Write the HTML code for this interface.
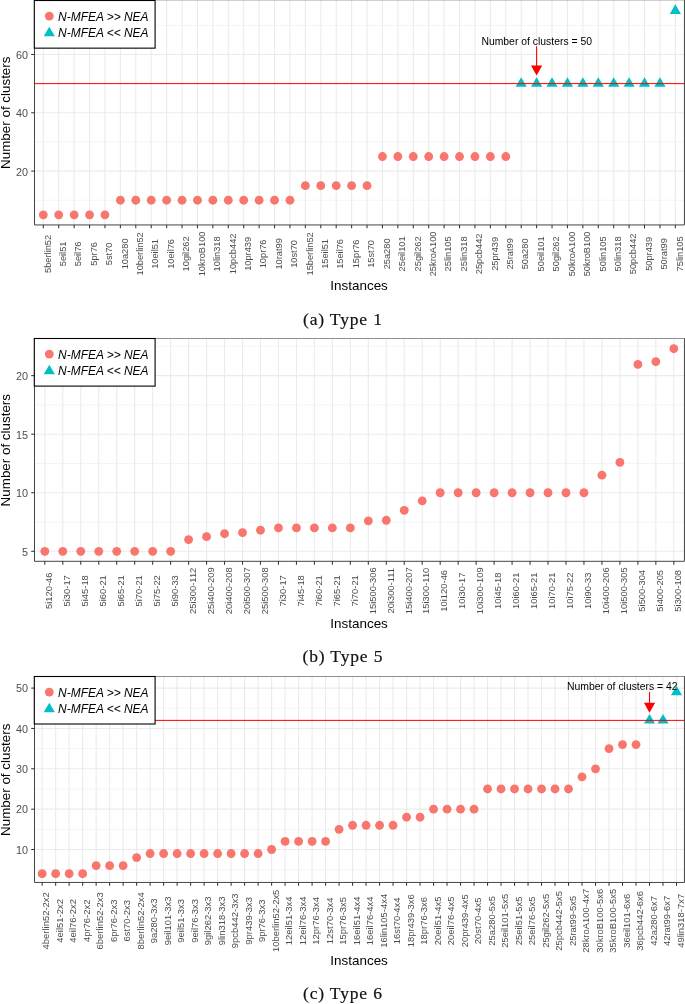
<!DOCTYPE html>
<html><head><meta charset="utf-8"><title>Figure</title>
<style>
html,body{margin:0;padding:0;background:#fff;}
body{width:685px;height:1004px;overflow:hidden;font-family:"Liberation Sans",sans-serif;}
svg{display:block;position:absolute;left:0;top:0;will-change:transform;}
.s{font-family:"Liberation Sans",sans-serif;}
.r{font-family:"Liberation Serif",serif;}
</style></head><body>
<svg width="685" height="1004" viewBox="0 0 685 1004">
<rect x="0" y="0" width="685" height="1004" fill="#fff"/>
<rect x="34.5" y="-0.1" width="649.95" height="225.04999999999998" fill="#fff"/>
<line x1="34.5" x2="684.45" y1="200.22" y2="200.22" stroke="#ebebeb" stroke-width="0.55"/>
<line x1="34.5" x2="684.45" y1="141.94" y2="141.94" stroke="#ebebeb" stroke-width="0.55"/>
<line x1="34.5" x2="684.45" y1="83.64" y2="83.64" stroke="#ebebeb" stroke-width="0.55"/>
<line x1="34.5" x2="684.45" y1="25.36" y2="25.36" stroke="#ebebeb" stroke-width="0.55"/>
<line x1="34.5" x2="684.45" y1="171.08" y2="171.08" stroke="#ebebeb" stroke-width="1.1"/>
<line x1="34.5" x2="684.45" y1="112.79" y2="112.79" stroke="#ebebeb" stroke-width="1.1"/>
<line x1="34.5" x2="684.45" y1="54.50" y2="54.50" stroke="#ebebeb" stroke-width="1.1"/>
<line x1="43.30" x2="43.30" y1="-0.1" y2="224.95" stroke="#ebebeb" stroke-width="1.1"/>
<line x1="58.72" x2="58.72" y1="-0.1" y2="224.95" stroke="#ebebeb" stroke-width="1.1"/>
<line x1="74.13" x2="74.13" y1="-0.1" y2="224.95" stroke="#ebebeb" stroke-width="1.1"/>
<line x1="89.55" x2="89.55" y1="-0.1" y2="224.95" stroke="#ebebeb" stroke-width="1.1"/>
<line x1="104.96" x2="104.96" y1="-0.1" y2="224.95" stroke="#ebebeb" stroke-width="1.1"/>
<line x1="120.38" x2="120.38" y1="-0.1" y2="224.95" stroke="#ebebeb" stroke-width="1.1"/>
<line x1="135.79" x2="135.79" y1="-0.1" y2="224.95" stroke="#ebebeb" stroke-width="1.1"/>
<line x1="151.21" x2="151.21" y1="-0.1" y2="224.95" stroke="#ebebeb" stroke-width="1.1"/>
<line x1="166.63" x2="166.63" y1="-0.1" y2="224.95" stroke="#ebebeb" stroke-width="1.1"/>
<line x1="182.04" x2="182.04" y1="-0.1" y2="224.95" stroke="#ebebeb" stroke-width="1.1"/>
<line x1="197.46" x2="197.46" y1="-0.1" y2="224.95" stroke="#ebebeb" stroke-width="1.1"/>
<line x1="212.87" x2="212.87" y1="-0.1" y2="224.95" stroke="#ebebeb" stroke-width="1.1"/>
<line x1="228.29" x2="228.29" y1="-0.1" y2="224.95" stroke="#ebebeb" stroke-width="1.1"/>
<line x1="243.71" x2="243.71" y1="-0.1" y2="224.95" stroke="#ebebeb" stroke-width="1.1"/>
<line x1="259.12" x2="259.12" y1="-0.1" y2="224.95" stroke="#ebebeb" stroke-width="1.1"/>
<line x1="274.54" x2="274.54" y1="-0.1" y2="224.95" stroke="#ebebeb" stroke-width="1.1"/>
<line x1="289.95" x2="289.95" y1="-0.1" y2="224.95" stroke="#ebebeb" stroke-width="1.1"/>
<line x1="305.37" x2="305.37" y1="-0.1" y2="224.95" stroke="#ebebeb" stroke-width="1.1"/>
<line x1="320.79" x2="320.79" y1="-0.1" y2="224.95" stroke="#ebebeb" stroke-width="1.1"/>
<line x1="336.20" x2="336.20" y1="-0.1" y2="224.95" stroke="#ebebeb" stroke-width="1.1"/>
<line x1="351.62" x2="351.62" y1="-0.1" y2="224.95" stroke="#ebebeb" stroke-width="1.1"/>
<line x1="367.03" x2="367.03" y1="-0.1" y2="224.95" stroke="#ebebeb" stroke-width="1.1"/>
<line x1="382.45" x2="382.45" y1="-0.1" y2="224.95" stroke="#ebebeb" stroke-width="1.1"/>
<line x1="397.86" x2="397.86" y1="-0.1" y2="224.95" stroke="#ebebeb" stroke-width="1.1"/>
<line x1="413.28" x2="413.28" y1="-0.1" y2="224.95" stroke="#ebebeb" stroke-width="1.1"/>
<line x1="428.70" x2="428.70" y1="-0.1" y2="224.95" stroke="#ebebeb" stroke-width="1.1"/>
<line x1="444.11" x2="444.11" y1="-0.1" y2="224.95" stroke="#ebebeb" stroke-width="1.1"/>
<line x1="459.53" x2="459.53" y1="-0.1" y2="224.95" stroke="#ebebeb" stroke-width="1.1"/>
<line x1="474.94" x2="474.94" y1="-0.1" y2="224.95" stroke="#ebebeb" stroke-width="1.1"/>
<line x1="490.36" x2="490.36" y1="-0.1" y2="224.95" stroke="#ebebeb" stroke-width="1.1"/>
<line x1="505.78" x2="505.78" y1="-0.1" y2="224.95" stroke="#ebebeb" stroke-width="1.1"/>
<line x1="521.19" x2="521.19" y1="-0.1" y2="224.95" stroke="#ebebeb" stroke-width="1.1"/>
<line x1="536.61" x2="536.61" y1="-0.1" y2="224.95" stroke="#ebebeb" stroke-width="1.1"/>
<line x1="552.02" x2="552.02" y1="-0.1" y2="224.95" stroke="#ebebeb" stroke-width="1.1"/>
<line x1="567.44" x2="567.44" y1="-0.1" y2="224.95" stroke="#ebebeb" stroke-width="1.1"/>
<line x1="582.86" x2="582.86" y1="-0.1" y2="224.95" stroke="#ebebeb" stroke-width="1.1"/>
<line x1="598.27" x2="598.27" y1="-0.1" y2="224.95" stroke="#ebebeb" stroke-width="1.1"/>
<line x1="613.69" x2="613.69" y1="-0.1" y2="224.95" stroke="#ebebeb" stroke-width="1.1"/>
<line x1="629.10" x2="629.10" y1="-0.1" y2="224.95" stroke="#ebebeb" stroke-width="1.1"/>
<line x1="644.52" x2="644.52" y1="-0.1" y2="224.95" stroke="#ebebeb" stroke-width="1.1"/>
<line x1="659.93" x2="659.93" y1="-0.1" y2="224.95" stroke="#ebebeb" stroke-width="1.1"/>
<line x1="675.35" x2="675.35" y1="-0.1" y2="224.95" stroke="#ebebeb" stroke-width="1.1"/>
<circle cx="43.30" cy="214.80" r="4.42" fill="#F8766D"/>
<circle cx="58.72" cy="214.80" r="4.42" fill="#F8766D"/>
<circle cx="74.13" cy="214.80" r="4.42" fill="#F8766D"/>
<circle cx="89.55" cy="214.80" r="4.42" fill="#F8766D"/>
<circle cx="104.96" cy="214.80" r="4.42" fill="#F8766D"/>
<circle cx="120.38" cy="200.22" r="4.42" fill="#F8766D"/>
<circle cx="135.79" cy="200.22" r="4.42" fill="#F8766D"/>
<circle cx="151.21" cy="200.22" r="4.42" fill="#F8766D"/>
<circle cx="166.63" cy="200.22" r="4.42" fill="#F8766D"/>
<circle cx="182.04" cy="200.22" r="4.42" fill="#F8766D"/>
<circle cx="197.46" cy="200.22" r="4.42" fill="#F8766D"/>
<circle cx="212.87" cy="200.22" r="4.42" fill="#F8766D"/>
<circle cx="228.29" cy="200.22" r="4.42" fill="#F8766D"/>
<circle cx="243.71" cy="200.22" r="4.42" fill="#F8766D"/>
<circle cx="259.12" cy="200.22" r="4.42" fill="#F8766D"/>
<circle cx="274.54" cy="200.22" r="4.42" fill="#F8766D"/>
<circle cx="289.95" cy="200.22" r="4.42" fill="#F8766D"/>
<circle cx="305.37" cy="185.65" r="4.42" fill="#F8766D"/>
<circle cx="320.79" cy="185.65" r="4.42" fill="#F8766D"/>
<circle cx="336.20" cy="185.65" r="4.42" fill="#F8766D"/>
<circle cx="351.62" cy="185.65" r="4.42" fill="#F8766D"/>
<circle cx="367.03" cy="185.65" r="4.42" fill="#F8766D"/>
<circle cx="382.45" cy="156.51" r="4.42" fill="#F8766D"/>
<circle cx="397.86" cy="156.51" r="4.42" fill="#F8766D"/>
<circle cx="413.28" cy="156.51" r="4.42" fill="#F8766D"/>
<circle cx="428.70" cy="156.51" r="4.42" fill="#F8766D"/>
<circle cx="444.11" cy="156.51" r="4.42" fill="#F8766D"/>
<circle cx="459.53" cy="156.51" r="4.42" fill="#F8766D"/>
<circle cx="474.94" cy="156.51" r="4.42" fill="#F8766D"/>
<circle cx="490.36" cy="156.51" r="4.42" fill="#F8766D"/>
<circle cx="505.78" cy="156.51" r="4.42" fill="#F8766D"/>
<polygon points="521.19,77.19 526.78,86.87 515.61,86.87" fill="#00BFC4"/>
<polygon points="536.61,77.19 542.19,86.87 531.02,86.87" fill="#00BFC4"/>
<polygon points="552.02,77.19 557.61,86.87 546.44,86.87" fill="#00BFC4"/>
<polygon points="567.44,77.19 573.03,86.87 561.85,86.87" fill="#00BFC4"/>
<polygon points="582.86,77.19 588.44,86.87 577.27,86.87" fill="#00BFC4"/>
<polygon points="598.27,77.19 603.86,86.87 592.69,86.87" fill="#00BFC4"/>
<polygon points="613.69,77.19 619.27,86.87 608.10,86.87" fill="#00BFC4"/>
<polygon points="629.10,77.19 634.69,86.87 623.52,86.87" fill="#00BFC4"/>
<polygon points="644.52,77.19 650.10,86.87 638.93,86.87" fill="#00BFC4"/>
<polygon points="659.93,77.19 665.52,86.87 654.35,86.87" fill="#00BFC4"/>
<polygon points="675.35,4.33 680.94,14.01 669.76,14.01" fill="#00BFC4"/>
<line x1="34.5" x2="684.45" y1="83.64" y2="83.64" stroke="#ff0000" stroke-width="1"/>
<text x="536.7" y="44.5" class="s" font-size="10.4" fill="#000" text-anchor="middle">Number of clusters = 50</text>
<line x1="536.61" x2="536.61" y1="46.2" y2="70.6" stroke="#ff0000" stroke-width="1.1"/>
<polygon points="531.01,65.60 542.21,65.60 536.61,75.60" fill="#ff0000"/>
<path d="M34.5,-0.1 V224.95 H684.45 V-0.1" fill="none" stroke="#3a3a3a" stroke-width="0.95" stroke-linejoin="miter" stroke-linecap="square"/>
<line x1="34.5" x2="684.45" y1="-0.1" y2="-0.1" stroke="#8a8a8a" stroke-width="0.95"/>
<line x1="43.30" x2="43.30" y1="224.95" y2="228.35" stroke="#333" stroke-width="1.05"/>
<line x1="58.72" x2="58.72" y1="224.95" y2="228.35" stroke="#333" stroke-width="1.05"/>
<line x1="74.13" x2="74.13" y1="224.95" y2="228.35" stroke="#333" stroke-width="1.05"/>
<line x1="89.55" x2="89.55" y1="224.95" y2="228.35" stroke="#333" stroke-width="1.05"/>
<line x1="104.96" x2="104.96" y1="224.95" y2="228.35" stroke="#333" stroke-width="1.05"/>
<line x1="120.38" x2="120.38" y1="224.95" y2="228.35" stroke="#333" stroke-width="1.05"/>
<line x1="135.79" x2="135.79" y1="224.95" y2="228.35" stroke="#333" stroke-width="1.05"/>
<line x1="151.21" x2="151.21" y1="224.95" y2="228.35" stroke="#333" stroke-width="1.05"/>
<line x1="166.63" x2="166.63" y1="224.95" y2="228.35" stroke="#333" stroke-width="1.05"/>
<line x1="182.04" x2="182.04" y1="224.95" y2="228.35" stroke="#333" stroke-width="1.05"/>
<line x1="197.46" x2="197.46" y1="224.95" y2="228.35" stroke="#333" stroke-width="1.05"/>
<line x1="212.87" x2="212.87" y1="224.95" y2="228.35" stroke="#333" stroke-width="1.05"/>
<line x1="228.29" x2="228.29" y1="224.95" y2="228.35" stroke="#333" stroke-width="1.05"/>
<line x1="243.71" x2="243.71" y1="224.95" y2="228.35" stroke="#333" stroke-width="1.05"/>
<line x1="259.12" x2="259.12" y1="224.95" y2="228.35" stroke="#333" stroke-width="1.05"/>
<line x1="274.54" x2="274.54" y1="224.95" y2="228.35" stroke="#333" stroke-width="1.05"/>
<line x1="289.95" x2="289.95" y1="224.95" y2="228.35" stroke="#333" stroke-width="1.05"/>
<line x1="305.37" x2="305.37" y1="224.95" y2="228.35" stroke="#333" stroke-width="1.05"/>
<line x1="320.79" x2="320.79" y1="224.95" y2="228.35" stroke="#333" stroke-width="1.05"/>
<line x1="336.20" x2="336.20" y1="224.95" y2="228.35" stroke="#333" stroke-width="1.05"/>
<line x1="351.62" x2="351.62" y1="224.95" y2="228.35" stroke="#333" stroke-width="1.05"/>
<line x1="367.03" x2="367.03" y1="224.95" y2="228.35" stroke="#333" stroke-width="1.05"/>
<line x1="382.45" x2="382.45" y1="224.95" y2="228.35" stroke="#333" stroke-width="1.05"/>
<line x1="397.86" x2="397.86" y1="224.95" y2="228.35" stroke="#333" stroke-width="1.05"/>
<line x1="413.28" x2="413.28" y1="224.95" y2="228.35" stroke="#333" stroke-width="1.05"/>
<line x1="428.70" x2="428.70" y1="224.95" y2="228.35" stroke="#333" stroke-width="1.05"/>
<line x1="444.11" x2="444.11" y1="224.95" y2="228.35" stroke="#333" stroke-width="1.05"/>
<line x1="459.53" x2="459.53" y1="224.95" y2="228.35" stroke="#333" stroke-width="1.05"/>
<line x1="474.94" x2="474.94" y1="224.95" y2="228.35" stroke="#333" stroke-width="1.05"/>
<line x1="490.36" x2="490.36" y1="224.95" y2="228.35" stroke="#333" stroke-width="1.05"/>
<line x1="505.78" x2="505.78" y1="224.95" y2="228.35" stroke="#333" stroke-width="1.05"/>
<line x1="521.19" x2="521.19" y1="224.95" y2="228.35" stroke="#333" stroke-width="1.05"/>
<line x1="536.61" x2="536.61" y1="224.95" y2="228.35" stroke="#333" stroke-width="1.05"/>
<line x1="552.02" x2="552.02" y1="224.95" y2="228.35" stroke="#333" stroke-width="1.05"/>
<line x1="567.44" x2="567.44" y1="224.95" y2="228.35" stroke="#333" stroke-width="1.05"/>
<line x1="582.86" x2="582.86" y1="224.95" y2="228.35" stroke="#333" stroke-width="1.05"/>
<line x1="598.27" x2="598.27" y1="224.95" y2="228.35" stroke="#333" stroke-width="1.05"/>
<line x1="613.69" x2="613.69" y1="224.95" y2="228.35" stroke="#333" stroke-width="1.05"/>
<line x1="629.10" x2="629.10" y1="224.95" y2="228.35" stroke="#333" stroke-width="1.05"/>
<line x1="644.52" x2="644.52" y1="224.95" y2="228.35" stroke="#333" stroke-width="1.05"/>
<line x1="659.93" x2="659.93" y1="224.95" y2="228.35" stroke="#333" stroke-width="1.05"/>
<line x1="675.35" x2="675.35" y1="224.95" y2="228.35" stroke="#333" stroke-width="1.05"/>
<line x1="31.2" x2="34.5" y1="171.08" y2="171.08" stroke="#333" stroke-width="1.05"/>
<text x="27.95" y="175.78" class="s" font-size="10.8" fill="#4d4d4d" text-anchor="end">20</text>
<line x1="31.2" x2="34.5" y1="112.79" y2="112.79" stroke="#333" stroke-width="1.05"/>
<text x="27.95" y="117.49" class="s" font-size="10.8" fill="#4d4d4d" text-anchor="end">40</text>
<line x1="31.2" x2="34.5" y1="54.50" y2="54.50" stroke="#333" stroke-width="1.05"/>
<text x="27.95" y="59.20" class="s" font-size="10.8" fill="#4d4d4d" text-anchor="end">60</text>
<text transform="translate(50.55,253.90) rotate(-90)" class="s" font-size="9.25" fill="#4d4d4d" text-anchor="middle">5berlin52</text>
<text transform="translate(65.97,253.90) rotate(-90)" class="s" font-size="9.25" fill="#4d4d4d" text-anchor="middle">5eil51</text>
<text transform="translate(81.38,253.90) rotate(-90)" class="s" font-size="9.25" fill="#4d4d4d" text-anchor="middle">5eil76</text>
<text transform="translate(96.80,253.90) rotate(-90)" class="s" font-size="9.25" fill="#4d4d4d" text-anchor="middle">5pr76</text>
<text transform="translate(112.21,253.90) rotate(-90)" class="s" font-size="9.25" fill="#4d4d4d" text-anchor="middle">5st70</text>
<text transform="translate(127.63,253.90) rotate(-90)" class="s" font-size="9.25" fill="#4d4d4d" text-anchor="middle">10a280</text>
<text transform="translate(143.04,253.90) rotate(-90)" class="s" font-size="9.25" fill="#4d4d4d" text-anchor="middle">10berlin52</text>
<text transform="translate(158.46,253.90) rotate(-90)" class="s" font-size="9.25" fill="#4d4d4d" text-anchor="middle">10eil51</text>
<text transform="translate(173.88,253.90) rotate(-90)" class="s" font-size="9.25" fill="#4d4d4d" text-anchor="middle">10eil76</text>
<text transform="translate(189.29,253.90) rotate(-90)" class="s" font-size="9.25" fill="#4d4d4d" text-anchor="middle">10gil262</text>
<text transform="translate(204.71,253.90) rotate(-90)" class="s" font-size="9.25" fill="#4d4d4d" text-anchor="middle">10kroB100</text>
<text transform="translate(220.12,253.90) rotate(-90)" class="s" font-size="9.25" fill="#4d4d4d" text-anchor="middle">10lin318</text>
<text transform="translate(235.54,253.90) rotate(-90)" class="s" font-size="9.25" fill="#4d4d4d" text-anchor="middle">10pcb442</text>
<text transform="translate(250.96,253.90) rotate(-90)" class="s" font-size="9.25" fill="#4d4d4d" text-anchor="middle">10pr439</text>
<text transform="translate(266.37,253.90) rotate(-90)" class="s" font-size="9.25" fill="#4d4d4d" text-anchor="middle">10pr76</text>
<text transform="translate(281.79,253.90) rotate(-90)" class="s" font-size="9.25" fill="#4d4d4d" text-anchor="middle">10rat99</text>
<text transform="translate(297.20,253.90) rotate(-90)" class="s" font-size="9.25" fill="#4d4d4d" text-anchor="middle">10st70</text>
<text transform="translate(312.62,253.90) rotate(-90)" class="s" font-size="9.25" fill="#4d4d4d" text-anchor="middle">15berlin52</text>
<text transform="translate(328.04,253.90) rotate(-90)" class="s" font-size="9.25" fill="#4d4d4d" text-anchor="middle">15eil51</text>
<text transform="translate(343.45,253.90) rotate(-90)" class="s" font-size="9.25" fill="#4d4d4d" text-anchor="middle">15eil76</text>
<text transform="translate(358.87,253.90) rotate(-90)" class="s" font-size="9.25" fill="#4d4d4d" text-anchor="middle">15pr76</text>
<text transform="translate(374.28,253.90) rotate(-90)" class="s" font-size="9.25" fill="#4d4d4d" text-anchor="middle">15st70</text>
<text transform="translate(389.70,253.90) rotate(-90)" class="s" font-size="9.25" fill="#4d4d4d" text-anchor="middle">25a280</text>
<text transform="translate(405.11,253.90) rotate(-90)" class="s" font-size="9.25" fill="#4d4d4d" text-anchor="middle">25eil101</text>
<text transform="translate(420.53,253.90) rotate(-90)" class="s" font-size="9.25" fill="#4d4d4d" text-anchor="middle">25gil262</text>
<text transform="translate(435.95,253.90) rotate(-90)" class="s" font-size="9.25" fill="#4d4d4d" text-anchor="middle">25kroA100</text>
<text transform="translate(451.36,253.90) rotate(-90)" class="s" font-size="9.25" fill="#4d4d4d" text-anchor="middle">25lin105</text>
<text transform="translate(466.78,253.90) rotate(-90)" class="s" font-size="9.25" fill="#4d4d4d" text-anchor="middle">25lin318</text>
<text transform="translate(482.19,253.90) rotate(-90)" class="s" font-size="9.25" fill="#4d4d4d" text-anchor="middle">25pcb442</text>
<text transform="translate(497.61,253.90) rotate(-90)" class="s" font-size="9.25" fill="#4d4d4d" text-anchor="middle">25pr439</text>
<text transform="translate(513.03,253.90) rotate(-90)" class="s" font-size="9.25" fill="#4d4d4d" text-anchor="middle">25rat99</text>
<text transform="translate(528.44,253.90) rotate(-90)" class="s" font-size="9.25" fill="#4d4d4d" text-anchor="middle">50a280</text>
<text transform="translate(543.86,253.90) rotate(-90)" class="s" font-size="9.25" fill="#4d4d4d" text-anchor="middle">50eil101</text>
<text transform="translate(559.27,253.90) rotate(-90)" class="s" font-size="9.25" fill="#4d4d4d" text-anchor="middle">50gil262</text>
<text transform="translate(574.69,253.90) rotate(-90)" class="s" font-size="9.25" fill="#4d4d4d" text-anchor="middle">50kroA100</text>
<text transform="translate(590.11,253.90) rotate(-90)" class="s" font-size="9.25" fill="#4d4d4d" text-anchor="middle">50kroB100</text>
<text transform="translate(605.52,253.90) rotate(-90)" class="s" font-size="9.25" fill="#4d4d4d" text-anchor="middle">50lin105</text>
<text transform="translate(620.94,253.90) rotate(-90)" class="s" font-size="9.25" fill="#4d4d4d" text-anchor="middle">50lin318</text>
<text transform="translate(636.35,253.90) rotate(-90)" class="s" font-size="9.25" fill="#4d4d4d" text-anchor="middle">50pcb442</text>
<text transform="translate(651.77,253.90) rotate(-90)" class="s" font-size="9.25" fill="#4d4d4d" text-anchor="middle">50pr439</text>
<text transform="translate(667.18,253.90) rotate(-90)" class="s" font-size="9.25" fill="#4d4d4d" text-anchor="middle">50rat99</text>
<text transform="translate(682.60,253.90) rotate(-90)" class="s" font-size="9.25" fill="#4d4d4d" text-anchor="middle">75lin105</text>
<text x="359.08" y="290" class="s" font-size="13.45" fill="#000" text-anchor="middle">Instances</text>
<text transform="translate(9.9,112.72) rotate(-90)" class="s" font-size="13.4" fill="#000" text-anchor="middle">Number of clusters</text>
<rect x="34.3" y="0.5" width="120.8" height="47.65" fill="#fff" stroke="#000" stroke-width="1.1"/>
<circle cx="49.30" cy="16.10" r="4.42" fill="#F8766D"/>
<polygon points="49.30,26.65 54.89,36.33 43.71,36.33" fill="#00BFC4"/>
<text x="58.099999999999994" y="20.6" class="s" font-size="11.95" font-style="italic" fill="#000">N-MFEA &gt;&gt; NEA</text>
<text x="58.099999999999994" y="37.0" class="s" font-size="11.95" font-style="italic" fill="#000">N-MFEA &lt;&lt; NEA</text>
<text x="342.9" y="324.8" class="r" font-size="17.5" letter-spacing="0.85" fill="#111" stroke="#111" stroke-width="0.2" text-anchor="middle">(a) Type 1</text>
<rect x="34.5" y="338.5" width="649.95" height="222.79999999999995" fill="#fff"/>
<line x1="34.5" x2="684.45" y1="522.02" y2="522.02" stroke="#ebebeb" stroke-width="0.55"/>
<line x1="34.5" x2="684.45" y1="463.47" y2="463.47" stroke="#ebebeb" stroke-width="0.55"/>
<line x1="34.5" x2="684.45" y1="404.92" y2="404.92" stroke="#ebebeb" stroke-width="0.55"/>
<line x1="34.5" x2="684.45" y1="346.37" y2="346.37" stroke="#ebebeb" stroke-width="0.55"/>
<line x1="34.5" x2="684.45" y1="551.30" y2="551.30" stroke="#ebebeb" stroke-width="1.1"/>
<line x1="34.5" x2="684.45" y1="492.75" y2="492.75" stroke="#ebebeb" stroke-width="1.1"/>
<line x1="34.5" x2="684.45" y1="434.20" y2="434.20" stroke="#ebebeb" stroke-width="1.1"/>
<line x1="34.5" x2="684.45" y1="375.65" y2="375.65" stroke="#ebebeb" stroke-width="1.1"/>
<line x1="44.83" x2="44.83" y1="338.5" y2="561.3" stroke="#ebebeb" stroke-width="1.1"/>
<line x1="62.80" x2="62.80" y1="338.5" y2="561.3" stroke="#ebebeb" stroke-width="1.1"/>
<line x1="80.77" x2="80.77" y1="338.5" y2="561.3" stroke="#ebebeb" stroke-width="1.1"/>
<line x1="98.75" x2="98.75" y1="338.5" y2="561.3" stroke="#ebebeb" stroke-width="1.1"/>
<line x1="116.72" x2="116.72" y1="338.5" y2="561.3" stroke="#ebebeb" stroke-width="1.1"/>
<line x1="134.69" x2="134.69" y1="338.5" y2="561.3" stroke="#ebebeb" stroke-width="1.1"/>
<line x1="152.66" x2="152.66" y1="338.5" y2="561.3" stroke="#ebebeb" stroke-width="1.1"/>
<line x1="170.63" x2="170.63" y1="338.5" y2="561.3" stroke="#ebebeb" stroke-width="1.1"/>
<line x1="188.60" x2="188.60" y1="338.5" y2="561.3" stroke="#ebebeb" stroke-width="1.1"/>
<line x1="206.57" x2="206.57" y1="338.5" y2="561.3" stroke="#ebebeb" stroke-width="1.1"/>
<line x1="224.54" x2="224.54" y1="338.5" y2="561.3" stroke="#ebebeb" stroke-width="1.1"/>
<line x1="242.51" x2="242.51" y1="338.5" y2="561.3" stroke="#ebebeb" stroke-width="1.1"/>
<line x1="260.48" x2="260.48" y1="338.5" y2="561.3" stroke="#ebebeb" stroke-width="1.1"/>
<line x1="278.46" x2="278.46" y1="338.5" y2="561.3" stroke="#ebebeb" stroke-width="1.1"/>
<line x1="296.43" x2="296.43" y1="338.5" y2="561.3" stroke="#ebebeb" stroke-width="1.1"/>
<line x1="314.40" x2="314.40" y1="338.5" y2="561.3" stroke="#ebebeb" stroke-width="1.1"/>
<line x1="332.37" x2="332.37" y1="338.5" y2="561.3" stroke="#ebebeb" stroke-width="1.1"/>
<line x1="350.34" x2="350.34" y1="338.5" y2="561.3" stroke="#ebebeb" stroke-width="1.1"/>
<line x1="368.31" x2="368.31" y1="338.5" y2="561.3" stroke="#ebebeb" stroke-width="1.1"/>
<line x1="386.28" x2="386.28" y1="338.5" y2="561.3" stroke="#ebebeb" stroke-width="1.1"/>
<line x1="404.25" x2="404.25" y1="338.5" y2="561.3" stroke="#ebebeb" stroke-width="1.1"/>
<line x1="422.22" x2="422.22" y1="338.5" y2="561.3" stroke="#ebebeb" stroke-width="1.1"/>
<line x1="440.19" x2="440.19" y1="338.5" y2="561.3" stroke="#ebebeb" stroke-width="1.1"/>
<line x1="458.17" x2="458.17" y1="338.5" y2="561.3" stroke="#ebebeb" stroke-width="1.1"/>
<line x1="476.14" x2="476.14" y1="338.5" y2="561.3" stroke="#ebebeb" stroke-width="1.1"/>
<line x1="494.11" x2="494.11" y1="338.5" y2="561.3" stroke="#ebebeb" stroke-width="1.1"/>
<line x1="512.08" x2="512.08" y1="338.5" y2="561.3" stroke="#ebebeb" stroke-width="1.1"/>
<line x1="530.05" x2="530.05" y1="338.5" y2="561.3" stroke="#ebebeb" stroke-width="1.1"/>
<line x1="548.02" x2="548.02" y1="338.5" y2="561.3" stroke="#ebebeb" stroke-width="1.1"/>
<line x1="565.99" x2="565.99" y1="338.5" y2="561.3" stroke="#ebebeb" stroke-width="1.1"/>
<line x1="583.96" x2="583.96" y1="338.5" y2="561.3" stroke="#ebebeb" stroke-width="1.1"/>
<line x1="601.93" x2="601.93" y1="338.5" y2="561.3" stroke="#ebebeb" stroke-width="1.1"/>
<line x1="619.90" x2="619.90" y1="338.5" y2="561.3" stroke="#ebebeb" stroke-width="1.1"/>
<line x1="637.88" x2="637.88" y1="338.5" y2="561.3" stroke="#ebebeb" stroke-width="1.1"/>
<line x1="655.85" x2="655.85" y1="338.5" y2="561.3" stroke="#ebebeb" stroke-width="1.1"/>
<line x1="673.82" x2="673.82" y1="338.5" y2="561.3" stroke="#ebebeb" stroke-width="1.1"/>
<circle cx="44.83" cy="551.30" r="4.42" fill="#F8766D"/>
<circle cx="62.80" cy="551.30" r="4.42" fill="#F8766D"/>
<circle cx="80.77" cy="551.30" r="4.42" fill="#F8766D"/>
<circle cx="98.75" cy="551.30" r="4.42" fill="#F8766D"/>
<circle cx="116.72" cy="551.30" r="4.42" fill="#F8766D"/>
<circle cx="134.69" cy="551.30" r="4.42" fill="#F8766D"/>
<circle cx="152.66" cy="551.30" r="4.42" fill="#F8766D"/>
<circle cx="170.63" cy="551.30" r="4.42" fill="#F8766D"/>
<circle cx="188.60" cy="539.59" r="4.42" fill="#F8766D"/>
<circle cx="206.57" cy="536.66" r="4.42" fill="#F8766D"/>
<circle cx="224.54" cy="533.73" r="4.42" fill="#F8766D"/>
<circle cx="242.51" cy="532.56" r="4.42" fill="#F8766D"/>
<circle cx="260.48" cy="530.22" r="4.42" fill="#F8766D"/>
<circle cx="278.46" cy="527.88" r="4.42" fill="#F8766D"/>
<circle cx="296.43" cy="527.88" r="4.42" fill="#F8766D"/>
<circle cx="314.40" cy="527.88" r="4.42" fill="#F8766D"/>
<circle cx="332.37" cy="527.88" r="4.42" fill="#F8766D"/>
<circle cx="350.34" cy="527.88" r="4.42" fill="#F8766D"/>
<circle cx="368.31" cy="520.85" r="4.42" fill="#F8766D"/>
<circle cx="386.28" cy="520.27" r="4.42" fill="#F8766D"/>
<circle cx="404.25" cy="510.31" r="4.42" fill="#F8766D"/>
<circle cx="422.22" cy="500.95" r="4.42" fill="#F8766D"/>
<circle cx="440.19" cy="492.75" r="4.42" fill="#F8766D"/>
<circle cx="458.17" cy="492.75" r="4.42" fill="#F8766D"/>
<circle cx="476.14" cy="492.75" r="4.42" fill="#F8766D"/>
<circle cx="494.11" cy="492.75" r="4.42" fill="#F8766D"/>
<circle cx="512.08" cy="492.75" r="4.42" fill="#F8766D"/>
<circle cx="530.05" cy="492.75" r="4.42" fill="#F8766D"/>
<circle cx="548.02" cy="492.75" r="4.42" fill="#F8766D"/>
<circle cx="565.99" cy="492.75" r="4.42" fill="#F8766D"/>
<circle cx="583.96" cy="492.75" r="4.42" fill="#F8766D"/>
<circle cx="601.93" cy="475.18" r="4.42" fill="#F8766D"/>
<circle cx="619.90" cy="462.30" r="4.42" fill="#F8766D"/>
<circle cx="637.88" cy="364.41" r="4.42" fill="#F8766D"/>
<circle cx="655.85" cy="361.60" r="4.42" fill="#F8766D"/>
<circle cx="673.82" cy="348.72" r="4.42" fill="#F8766D"/>
<path d="M34.5,338.5 V561.3 H684.45 V338.5" fill="none" stroke="#3a3a3a" stroke-width="0.95" stroke-linejoin="miter" stroke-linecap="square"/>
<line x1="34.5" x2="684.45" y1="338.5" y2="338.5" stroke="#8a8a8a" stroke-width="0.95"/>
<line x1="44.83" x2="44.83" y1="561.3" y2="564.6999999999999" stroke="#333" stroke-width="1.05"/>
<line x1="62.80" x2="62.80" y1="561.3" y2="564.6999999999999" stroke="#333" stroke-width="1.05"/>
<line x1="80.77" x2="80.77" y1="561.3" y2="564.6999999999999" stroke="#333" stroke-width="1.05"/>
<line x1="98.75" x2="98.75" y1="561.3" y2="564.6999999999999" stroke="#333" stroke-width="1.05"/>
<line x1="116.72" x2="116.72" y1="561.3" y2="564.6999999999999" stroke="#333" stroke-width="1.05"/>
<line x1="134.69" x2="134.69" y1="561.3" y2="564.6999999999999" stroke="#333" stroke-width="1.05"/>
<line x1="152.66" x2="152.66" y1="561.3" y2="564.6999999999999" stroke="#333" stroke-width="1.05"/>
<line x1="170.63" x2="170.63" y1="561.3" y2="564.6999999999999" stroke="#333" stroke-width="1.05"/>
<line x1="188.60" x2="188.60" y1="561.3" y2="564.6999999999999" stroke="#333" stroke-width="1.05"/>
<line x1="206.57" x2="206.57" y1="561.3" y2="564.6999999999999" stroke="#333" stroke-width="1.05"/>
<line x1="224.54" x2="224.54" y1="561.3" y2="564.6999999999999" stroke="#333" stroke-width="1.05"/>
<line x1="242.51" x2="242.51" y1="561.3" y2="564.6999999999999" stroke="#333" stroke-width="1.05"/>
<line x1="260.48" x2="260.48" y1="561.3" y2="564.6999999999999" stroke="#333" stroke-width="1.05"/>
<line x1="278.46" x2="278.46" y1="561.3" y2="564.6999999999999" stroke="#333" stroke-width="1.05"/>
<line x1="296.43" x2="296.43" y1="561.3" y2="564.6999999999999" stroke="#333" stroke-width="1.05"/>
<line x1="314.40" x2="314.40" y1="561.3" y2="564.6999999999999" stroke="#333" stroke-width="1.05"/>
<line x1="332.37" x2="332.37" y1="561.3" y2="564.6999999999999" stroke="#333" stroke-width="1.05"/>
<line x1="350.34" x2="350.34" y1="561.3" y2="564.6999999999999" stroke="#333" stroke-width="1.05"/>
<line x1="368.31" x2="368.31" y1="561.3" y2="564.6999999999999" stroke="#333" stroke-width="1.05"/>
<line x1="386.28" x2="386.28" y1="561.3" y2="564.6999999999999" stroke="#333" stroke-width="1.05"/>
<line x1="404.25" x2="404.25" y1="561.3" y2="564.6999999999999" stroke="#333" stroke-width="1.05"/>
<line x1="422.22" x2="422.22" y1="561.3" y2="564.6999999999999" stroke="#333" stroke-width="1.05"/>
<line x1="440.19" x2="440.19" y1="561.3" y2="564.6999999999999" stroke="#333" stroke-width="1.05"/>
<line x1="458.17" x2="458.17" y1="561.3" y2="564.6999999999999" stroke="#333" stroke-width="1.05"/>
<line x1="476.14" x2="476.14" y1="561.3" y2="564.6999999999999" stroke="#333" stroke-width="1.05"/>
<line x1="494.11" x2="494.11" y1="561.3" y2="564.6999999999999" stroke="#333" stroke-width="1.05"/>
<line x1="512.08" x2="512.08" y1="561.3" y2="564.6999999999999" stroke="#333" stroke-width="1.05"/>
<line x1="530.05" x2="530.05" y1="561.3" y2="564.6999999999999" stroke="#333" stroke-width="1.05"/>
<line x1="548.02" x2="548.02" y1="561.3" y2="564.6999999999999" stroke="#333" stroke-width="1.05"/>
<line x1="565.99" x2="565.99" y1="561.3" y2="564.6999999999999" stroke="#333" stroke-width="1.05"/>
<line x1="583.96" x2="583.96" y1="561.3" y2="564.6999999999999" stroke="#333" stroke-width="1.05"/>
<line x1="601.93" x2="601.93" y1="561.3" y2="564.6999999999999" stroke="#333" stroke-width="1.05"/>
<line x1="619.90" x2="619.90" y1="561.3" y2="564.6999999999999" stroke="#333" stroke-width="1.05"/>
<line x1="637.88" x2="637.88" y1="561.3" y2="564.6999999999999" stroke="#333" stroke-width="1.05"/>
<line x1="655.85" x2="655.85" y1="561.3" y2="564.6999999999999" stroke="#333" stroke-width="1.05"/>
<line x1="673.82" x2="673.82" y1="561.3" y2="564.6999999999999" stroke="#333" stroke-width="1.05"/>
<line x1="31.2" x2="34.5" y1="551.30" y2="551.30" stroke="#333" stroke-width="1.05"/>
<text x="27.95" y="555.75" class="s" font-size="10.8" fill="#4d4d4d" text-anchor="end">5</text>
<line x1="31.2" x2="34.5" y1="492.75" y2="492.75" stroke="#333" stroke-width="1.05"/>
<text x="27.95" y="497.20" class="s" font-size="10.8" fill="#4d4d4d" text-anchor="end">10</text>
<line x1="31.2" x2="34.5" y1="434.20" y2="434.20" stroke="#333" stroke-width="1.05"/>
<text x="27.95" y="438.65" class="s" font-size="10.8" fill="#4d4d4d" text-anchor="end">15</text>
<line x1="31.2" x2="34.5" y1="375.65" y2="375.65" stroke="#333" stroke-width="1.05"/>
<text x="27.95" y="380.10" class="s" font-size="10.8" fill="#4d4d4d" text-anchor="end">20</text>
<text transform="translate(52.08,590.80) rotate(-90)" class="s" font-size="9.4" fill="#4d4d4d" text-anchor="middle">5i120-46</text>
<text transform="translate(70.05,590.80) rotate(-90)" class="s" font-size="9.4" fill="#4d4d4d" text-anchor="middle">5i30-17</text>
<text transform="translate(88.02,590.80) rotate(-90)" class="s" font-size="9.4" fill="#4d4d4d" text-anchor="middle">5i45-18</text>
<text transform="translate(106.00,590.80) rotate(-90)" class="s" font-size="9.4" fill="#4d4d4d" text-anchor="middle">5i60-21</text>
<text transform="translate(123.97,590.80) rotate(-90)" class="s" font-size="9.4" fill="#4d4d4d" text-anchor="middle">5i65-21</text>
<text transform="translate(141.94,590.80) rotate(-90)" class="s" font-size="9.4" fill="#4d4d4d" text-anchor="middle">5i70-21</text>
<text transform="translate(159.91,590.80) rotate(-90)" class="s" font-size="9.4" fill="#4d4d4d" text-anchor="middle">5i75-22</text>
<text transform="translate(177.88,590.80) rotate(-90)" class="s" font-size="9.4" fill="#4d4d4d" text-anchor="middle">5i90-33</text>
<text transform="translate(195.85,590.80) rotate(-90)" class="s" font-size="9.4" fill="#4d4d4d" text-anchor="middle">25i300-112</text>
<text transform="translate(213.82,590.80) rotate(-90)" class="s" font-size="9.4" fill="#4d4d4d" text-anchor="middle">25i400-209</text>
<text transform="translate(231.79,590.80) rotate(-90)" class="s" font-size="9.4" fill="#4d4d4d" text-anchor="middle">20i400-208</text>
<text transform="translate(249.76,590.80) rotate(-90)" class="s" font-size="9.4" fill="#4d4d4d" text-anchor="middle">20i500-307</text>
<text transform="translate(267.73,590.80) rotate(-90)" class="s" font-size="9.4" fill="#4d4d4d" text-anchor="middle">25i500-308</text>
<text transform="translate(285.71,590.80) rotate(-90)" class="s" font-size="9.4" fill="#4d4d4d" text-anchor="middle">7i30-17</text>
<text transform="translate(303.68,590.80) rotate(-90)" class="s" font-size="9.4" fill="#4d4d4d" text-anchor="middle">7i45-18</text>
<text transform="translate(321.65,590.80) rotate(-90)" class="s" font-size="9.4" fill="#4d4d4d" text-anchor="middle">7i60-21</text>
<text transform="translate(339.62,590.80) rotate(-90)" class="s" font-size="9.4" fill="#4d4d4d" text-anchor="middle">7i65-21</text>
<text transform="translate(357.59,590.80) rotate(-90)" class="s" font-size="9.4" fill="#4d4d4d" text-anchor="middle">7i70-21</text>
<text transform="translate(375.56,590.80) rotate(-90)" class="s" font-size="9.4" fill="#4d4d4d" text-anchor="middle">15i500-306</text>
<text transform="translate(393.53,590.80) rotate(-90)" class="s" font-size="9.4" fill="#4d4d4d" text-anchor="middle">20i300-111</text>
<text transform="translate(411.50,590.80) rotate(-90)" class="s" font-size="9.4" fill="#4d4d4d" text-anchor="middle">15i400-207</text>
<text transform="translate(429.47,590.80) rotate(-90)" class="s" font-size="9.4" fill="#4d4d4d" text-anchor="middle">15i300-110</text>
<text transform="translate(447.44,590.80) rotate(-90)" class="s" font-size="9.4" fill="#4d4d4d" text-anchor="middle">10i120-46</text>
<text transform="translate(465.42,590.80) rotate(-90)" class="s" font-size="9.4" fill="#4d4d4d" text-anchor="middle">10i30-17</text>
<text transform="translate(483.39,590.80) rotate(-90)" class="s" font-size="9.4" fill="#4d4d4d" text-anchor="middle">10i300-109</text>
<text transform="translate(501.36,590.80) rotate(-90)" class="s" font-size="9.4" fill="#4d4d4d" text-anchor="middle">10i45-18</text>
<text transform="translate(519.33,590.80) rotate(-90)" class="s" font-size="9.4" fill="#4d4d4d" text-anchor="middle">10i60-21</text>
<text transform="translate(537.30,590.80) rotate(-90)" class="s" font-size="9.4" fill="#4d4d4d" text-anchor="middle">10i65-21</text>
<text transform="translate(555.27,590.80) rotate(-90)" class="s" font-size="9.4" fill="#4d4d4d" text-anchor="middle">10i70-21</text>
<text transform="translate(573.24,590.80) rotate(-90)" class="s" font-size="9.4" fill="#4d4d4d" text-anchor="middle">10i75-22</text>
<text transform="translate(591.21,590.80) rotate(-90)" class="s" font-size="9.4" fill="#4d4d4d" text-anchor="middle">10i90-33</text>
<text transform="translate(609.18,590.80) rotate(-90)" class="s" font-size="9.4" fill="#4d4d4d" text-anchor="middle">10i400-206</text>
<text transform="translate(627.15,590.80) rotate(-90)" class="s" font-size="9.4" fill="#4d4d4d" text-anchor="middle">10i500-305</text>
<text transform="translate(645.13,590.80) rotate(-90)" class="s" font-size="9.4" fill="#4d4d4d" text-anchor="middle">5i500-304</text>
<text transform="translate(663.10,590.80) rotate(-90)" class="s" font-size="9.4" fill="#4d4d4d" text-anchor="middle">5i400-205</text>
<text transform="translate(681.07,590.80) rotate(-90)" class="s" font-size="9.4" fill="#4d4d4d" text-anchor="middle">5i300-108</text>
<text x="359.08" y="627.9" class="s" font-size="13.45" fill="#000" text-anchor="middle">Instances</text>
<text transform="translate(9.9,450.20) rotate(-90)" class="s" font-size="13.4" fill="#000" text-anchor="middle">Number of clusters</text>
<rect x="34.3" y="338.5" width="120.8" height="47.60000000000002" fill="#fff" stroke="#000" stroke-width="1.1"/>
<circle cx="49.30" cy="354.10" r="4.42" fill="#F8766D"/>
<polygon points="49.30,364.65 54.89,374.33 43.71,374.33" fill="#00BFC4"/>
<text x="58.099999999999994" y="358.6" class="s" font-size="11.95" font-style="italic" fill="#000">N-MFEA &gt;&gt; NEA</text>
<text x="58.099999999999994" y="375.0" class="s" font-size="11.95" font-style="italic" fill="#000">N-MFEA &lt;&lt; NEA</text>
<text x="342.9" y="661.8" class="r" font-size="17.5" letter-spacing="0.85" fill="#111" stroke="#111" stroke-width="0.2" text-anchor="middle">(b) Type 5</text>
<rect x="34.5" y="676.5" width="649.95" height="205.95000000000005" fill="#fff"/>
<line x1="34.5" x2="684.45" y1="869.67" y2="869.67" stroke="#ebebeb" stroke-width="0.55"/>
<line x1="34.5" x2="684.45" y1="829.33" y2="829.33" stroke="#ebebeb" stroke-width="0.55"/>
<line x1="34.5" x2="684.45" y1="788.98" y2="788.98" stroke="#ebebeb" stroke-width="0.55"/>
<line x1="34.5" x2="684.45" y1="748.62" y2="748.62" stroke="#ebebeb" stroke-width="0.55"/>
<line x1="34.5" x2="684.45" y1="708.27" y2="708.27" stroke="#ebebeb" stroke-width="0.55"/>
<line x1="34.5" x2="684.45" y1="849.50" y2="849.50" stroke="#ebebeb" stroke-width="1.1"/>
<line x1="34.5" x2="684.45" y1="809.15" y2="809.15" stroke="#ebebeb" stroke-width="1.1"/>
<line x1="34.5" x2="684.45" y1="768.80" y2="768.80" stroke="#ebebeb" stroke-width="1.1"/>
<line x1="34.5" x2="684.45" y1="728.45" y2="728.45" stroke="#ebebeb" stroke-width="1.1"/>
<line x1="34.5" x2="684.45" y1="688.10" y2="688.10" stroke="#ebebeb" stroke-width="1.1"/>
<line x1="42.15" x2="42.15" y1="676.5" y2="882.45" stroke="#ebebeb" stroke-width="1.1"/>
<line x1="55.65" x2="55.65" y1="676.5" y2="882.45" stroke="#ebebeb" stroke-width="1.1"/>
<line x1="69.14" x2="69.14" y1="676.5" y2="882.45" stroke="#ebebeb" stroke-width="1.1"/>
<line x1="82.64" x2="82.64" y1="676.5" y2="882.45" stroke="#ebebeb" stroke-width="1.1"/>
<line x1="96.14" x2="96.14" y1="676.5" y2="882.45" stroke="#ebebeb" stroke-width="1.1"/>
<line x1="109.63" x2="109.63" y1="676.5" y2="882.45" stroke="#ebebeb" stroke-width="1.1"/>
<line x1="123.13" x2="123.13" y1="676.5" y2="882.45" stroke="#ebebeb" stroke-width="1.1"/>
<line x1="136.63" x2="136.63" y1="676.5" y2="882.45" stroke="#ebebeb" stroke-width="1.1"/>
<line x1="150.12" x2="150.12" y1="676.5" y2="882.45" stroke="#ebebeb" stroke-width="1.1"/>
<line x1="163.62" x2="163.62" y1="676.5" y2="882.45" stroke="#ebebeb" stroke-width="1.1"/>
<line x1="177.12" x2="177.12" y1="676.5" y2="882.45" stroke="#ebebeb" stroke-width="1.1"/>
<line x1="190.61" x2="190.61" y1="676.5" y2="882.45" stroke="#ebebeb" stroke-width="1.1"/>
<line x1="204.11" x2="204.11" y1="676.5" y2="882.45" stroke="#ebebeb" stroke-width="1.1"/>
<line x1="217.61" x2="217.61" y1="676.5" y2="882.45" stroke="#ebebeb" stroke-width="1.1"/>
<line x1="231.10" x2="231.10" y1="676.5" y2="882.45" stroke="#ebebeb" stroke-width="1.1"/>
<line x1="244.60" x2="244.60" y1="676.5" y2="882.45" stroke="#ebebeb" stroke-width="1.1"/>
<line x1="258.10" x2="258.10" y1="676.5" y2="882.45" stroke="#ebebeb" stroke-width="1.1"/>
<line x1="271.60" x2="271.60" y1="676.5" y2="882.45" stroke="#ebebeb" stroke-width="1.1"/>
<line x1="285.09" x2="285.09" y1="676.5" y2="882.45" stroke="#ebebeb" stroke-width="1.1"/>
<line x1="298.59" x2="298.59" y1="676.5" y2="882.45" stroke="#ebebeb" stroke-width="1.1"/>
<line x1="312.09" x2="312.09" y1="676.5" y2="882.45" stroke="#ebebeb" stroke-width="1.1"/>
<line x1="325.58" x2="325.58" y1="676.5" y2="882.45" stroke="#ebebeb" stroke-width="1.1"/>
<line x1="339.08" x2="339.08" y1="676.5" y2="882.45" stroke="#ebebeb" stroke-width="1.1"/>
<line x1="352.58" x2="352.58" y1="676.5" y2="882.45" stroke="#ebebeb" stroke-width="1.1"/>
<line x1="366.07" x2="366.07" y1="676.5" y2="882.45" stroke="#ebebeb" stroke-width="1.1"/>
<line x1="379.57" x2="379.57" y1="676.5" y2="882.45" stroke="#ebebeb" stroke-width="1.1"/>
<line x1="393.07" x2="393.07" y1="676.5" y2="882.45" stroke="#ebebeb" stroke-width="1.1"/>
<line x1="406.56" x2="406.56" y1="676.5" y2="882.45" stroke="#ebebeb" stroke-width="1.1"/>
<line x1="420.06" x2="420.06" y1="676.5" y2="882.45" stroke="#ebebeb" stroke-width="1.1"/>
<line x1="433.56" x2="433.56" y1="676.5" y2="882.45" stroke="#ebebeb" stroke-width="1.1"/>
<line x1="447.05" x2="447.05" y1="676.5" y2="882.45" stroke="#ebebeb" stroke-width="1.1"/>
<line x1="460.55" x2="460.55" y1="676.5" y2="882.45" stroke="#ebebeb" stroke-width="1.1"/>
<line x1="474.05" x2="474.05" y1="676.5" y2="882.45" stroke="#ebebeb" stroke-width="1.1"/>
<line x1="487.55" x2="487.55" y1="676.5" y2="882.45" stroke="#ebebeb" stroke-width="1.1"/>
<line x1="501.04" x2="501.04" y1="676.5" y2="882.45" stroke="#ebebeb" stroke-width="1.1"/>
<line x1="514.54" x2="514.54" y1="676.5" y2="882.45" stroke="#ebebeb" stroke-width="1.1"/>
<line x1="528.04" x2="528.04" y1="676.5" y2="882.45" stroke="#ebebeb" stroke-width="1.1"/>
<line x1="541.53" x2="541.53" y1="676.5" y2="882.45" stroke="#ebebeb" stroke-width="1.1"/>
<line x1="555.03" x2="555.03" y1="676.5" y2="882.45" stroke="#ebebeb" stroke-width="1.1"/>
<line x1="568.53" x2="568.53" y1="676.5" y2="882.45" stroke="#ebebeb" stroke-width="1.1"/>
<line x1="582.02" x2="582.02" y1="676.5" y2="882.45" stroke="#ebebeb" stroke-width="1.1"/>
<line x1="595.52" x2="595.52" y1="676.5" y2="882.45" stroke="#ebebeb" stroke-width="1.1"/>
<line x1="609.02" x2="609.02" y1="676.5" y2="882.45" stroke="#ebebeb" stroke-width="1.1"/>
<line x1="622.51" x2="622.51" y1="676.5" y2="882.45" stroke="#ebebeb" stroke-width="1.1"/>
<line x1="636.01" x2="636.01" y1="676.5" y2="882.45" stroke="#ebebeb" stroke-width="1.1"/>
<line x1="649.51" x2="649.51" y1="676.5" y2="882.45" stroke="#ebebeb" stroke-width="1.1"/>
<line x1="663.00" x2="663.00" y1="676.5" y2="882.45" stroke="#ebebeb" stroke-width="1.1"/>
<line x1="676.50" x2="676.50" y1="676.5" y2="882.45" stroke="#ebebeb" stroke-width="1.1"/>
<circle cx="42.15" cy="873.71" r="4.42" fill="#F8766D"/>
<circle cx="55.65" cy="873.71" r="4.42" fill="#F8766D"/>
<circle cx="69.14" cy="873.71" r="4.42" fill="#F8766D"/>
<circle cx="82.64" cy="873.71" r="4.42" fill="#F8766D"/>
<circle cx="96.14" cy="865.64" r="4.42" fill="#F8766D"/>
<circle cx="109.63" cy="865.64" r="4.42" fill="#F8766D"/>
<circle cx="123.13" cy="865.64" r="4.42" fill="#F8766D"/>
<circle cx="136.63" cy="857.57" r="4.42" fill="#F8766D"/>
<circle cx="150.12" cy="853.53" r="4.42" fill="#F8766D"/>
<circle cx="163.62" cy="853.53" r="4.42" fill="#F8766D"/>
<circle cx="177.12" cy="853.53" r="4.42" fill="#F8766D"/>
<circle cx="190.61" cy="853.53" r="4.42" fill="#F8766D"/>
<circle cx="204.11" cy="853.53" r="4.42" fill="#F8766D"/>
<circle cx="217.61" cy="853.53" r="4.42" fill="#F8766D"/>
<circle cx="231.10" cy="853.53" r="4.42" fill="#F8766D"/>
<circle cx="244.60" cy="853.53" r="4.42" fill="#F8766D"/>
<circle cx="258.10" cy="853.53" r="4.42" fill="#F8766D"/>
<circle cx="271.60" cy="849.50" r="4.42" fill="#F8766D"/>
<circle cx="285.09" cy="841.43" r="4.42" fill="#F8766D"/>
<circle cx="298.59" cy="841.43" r="4.42" fill="#F8766D"/>
<circle cx="312.09" cy="841.43" r="4.42" fill="#F8766D"/>
<circle cx="325.58" cy="841.43" r="4.42" fill="#F8766D"/>
<circle cx="339.08" cy="829.33" r="4.42" fill="#F8766D"/>
<circle cx="352.58" cy="825.29" r="4.42" fill="#F8766D"/>
<circle cx="366.07" cy="825.29" r="4.42" fill="#F8766D"/>
<circle cx="379.57" cy="825.29" r="4.42" fill="#F8766D"/>
<circle cx="393.07" cy="825.29" r="4.42" fill="#F8766D"/>
<circle cx="406.56" cy="817.22" r="4.42" fill="#F8766D"/>
<circle cx="420.06" cy="817.22" r="4.42" fill="#F8766D"/>
<circle cx="433.56" cy="809.15" r="4.42" fill="#F8766D"/>
<circle cx="447.05" cy="809.15" r="4.42" fill="#F8766D"/>
<circle cx="460.55" cy="809.15" r="4.42" fill="#F8766D"/>
<circle cx="474.05" cy="809.15" r="4.42" fill="#F8766D"/>
<circle cx="487.55" cy="788.98" r="4.42" fill="#F8766D"/>
<circle cx="501.04" cy="788.98" r="4.42" fill="#F8766D"/>
<circle cx="514.54" cy="788.98" r="4.42" fill="#F8766D"/>
<circle cx="528.04" cy="788.98" r="4.42" fill="#F8766D"/>
<circle cx="541.53" cy="788.98" r="4.42" fill="#F8766D"/>
<circle cx="555.03" cy="788.98" r="4.42" fill="#F8766D"/>
<circle cx="568.53" cy="788.98" r="4.42" fill="#F8766D"/>
<circle cx="582.02" cy="776.87" r="4.42" fill="#F8766D"/>
<circle cx="595.52" cy="768.80" r="4.42" fill="#F8766D"/>
<circle cx="609.02" cy="748.62" r="4.42" fill="#F8766D"/>
<circle cx="622.51" cy="744.59" r="4.42" fill="#F8766D"/>
<circle cx="636.01" cy="744.59" r="4.42" fill="#F8766D"/>
<polygon points="649.51,713.93 655.09,723.61 643.92,723.61" fill="#00BFC4"/>
<polygon points="663.00,713.93 668.59,723.61 657.42,723.61" fill="#00BFC4"/>
<polygon points="676.50,685.68 682.09,695.36 670.92,695.36" fill="#00BFC4"/>
<line x1="34.5" x2="684.45" y1="720.38" y2="720.38" stroke="#ff0000" stroke-width="1"/>
<text x="622.3" y="689.6" class="s" font-size="10.4" fill="#000" text-anchor="middle">Number of clusters = 42</text>
<line x1="649.51" x2="649.51" y1="692.1" y2="707.65" stroke="#ff0000" stroke-width="1.1"/>
<polygon points="643.91,702.65 655.11,702.65 649.51,712.65" fill="#ff0000"/>
<path d="M34.5,676.5 V882.45 H684.45 V676.5" fill="none" stroke="#3a3a3a" stroke-width="0.95" stroke-linejoin="miter" stroke-linecap="square"/>
<line x1="34.5" x2="684.45" y1="676.5" y2="676.5" stroke="#8a8a8a" stroke-width="0.95"/>
<line x1="42.15" x2="42.15" y1="882.45" y2="885.85" stroke="#333" stroke-width="1.05"/>
<line x1="55.65" x2="55.65" y1="882.45" y2="885.85" stroke="#333" stroke-width="1.05"/>
<line x1="69.14" x2="69.14" y1="882.45" y2="885.85" stroke="#333" stroke-width="1.05"/>
<line x1="82.64" x2="82.64" y1="882.45" y2="885.85" stroke="#333" stroke-width="1.05"/>
<line x1="96.14" x2="96.14" y1="882.45" y2="885.85" stroke="#333" stroke-width="1.05"/>
<line x1="109.63" x2="109.63" y1="882.45" y2="885.85" stroke="#333" stroke-width="1.05"/>
<line x1="123.13" x2="123.13" y1="882.45" y2="885.85" stroke="#333" stroke-width="1.05"/>
<line x1="136.63" x2="136.63" y1="882.45" y2="885.85" stroke="#333" stroke-width="1.05"/>
<line x1="150.12" x2="150.12" y1="882.45" y2="885.85" stroke="#333" stroke-width="1.05"/>
<line x1="163.62" x2="163.62" y1="882.45" y2="885.85" stroke="#333" stroke-width="1.05"/>
<line x1="177.12" x2="177.12" y1="882.45" y2="885.85" stroke="#333" stroke-width="1.05"/>
<line x1="190.61" x2="190.61" y1="882.45" y2="885.85" stroke="#333" stroke-width="1.05"/>
<line x1="204.11" x2="204.11" y1="882.45" y2="885.85" stroke="#333" stroke-width="1.05"/>
<line x1="217.61" x2="217.61" y1="882.45" y2="885.85" stroke="#333" stroke-width="1.05"/>
<line x1="231.10" x2="231.10" y1="882.45" y2="885.85" stroke="#333" stroke-width="1.05"/>
<line x1="244.60" x2="244.60" y1="882.45" y2="885.85" stroke="#333" stroke-width="1.05"/>
<line x1="258.10" x2="258.10" y1="882.45" y2="885.85" stroke="#333" stroke-width="1.05"/>
<line x1="271.60" x2="271.60" y1="882.45" y2="885.85" stroke="#333" stroke-width="1.05"/>
<line x1="285.09" x2="285.09" y1="882.45" y2="885.85" stroke="#333" stroke-width="1.05"/>
<line x1="298.59" x2="298.59" y1="882.45" y2="885.85" stroke="#333" stroke-width="1.05"/>
<line x1="312.09" x2="312.09" y1="882.45" y2="885.85" stroke="#333" stroke-width="1.05"/>
<line x1="325.58" x2="325.58" y1="882.45" y2="885.85" stroke="#333" stroke-width="1.05"/>
<line x1="339.08" x2="339.08" y1="882.45" y2="885.85" stroke="#333" stroke-width="1.05"/>
<line x1="352.58" x2="352.58" y1="882.45" y2="885.85" stroke="#333" stroke-width="1.05"/>
<line x1="366.07" x2="366.07" y1="882.45" y2="885.85" stroke="#333" stroke-width="1.05"/>
<line x1="379.57" x2="379.57" y1="882.45" y2="885.85" stroke="#333" stroke-width="1.05"/>
<line x1="393.07" x2="393.07" y1="882.45" y2="885.85" stroke="#333" stroke-width="1.05"/>
<line x1="406.56" x2="406.56" y1="882.45" y2="885.85" stroke="#333" stroke-width="1.05"/>
<line x1="420.06" x2="420.06" y1="882.45" y2="885.85" stroke="#333" stroke-width="1.05"/>
<line x1="433.56" x2="433.56" y1="882.45" y2="885.85" stroke="#333" stroke-width="1.05"/>
<line x1="447.05" x2="447.05" y1="882.45" y2="885.85" stroke="#333" stroke-width="1.05"/>
<line x1="460.55" x2="460.55" y1="882.45" y2="885.85" stroke="#333" stroke-width="1.05"/>
<line x1="474.05" x2="474.05" y1="882.45" y2="885.85" stroke="#333" stroke-width="1.05"/>
<line x1="487.55" x2="487.55" y1="882.45" y2="885.85" stroke="#333" stroke-width="1.05"/>
<line x1="501.04" x2="501.04" y1="882.45" y2="885.85" stroke="#333" stroke-width="1.05"/>
<line x1="514.54" x2="514.54" y1="882.45" y2="885.85" stroke="#333" stroke-width="1.05"/>
<line x1="528.04" x2="528.04" y1="882.45" y2="885.85" stroke="#333" stroke-width="1.05"/>
<line x1="541.53" x2="541.53" y1="882.45" y2="885.85" stroke="#333" stroke-width="1.05"/>
<line x1="555.03" x2="555.03" y1="882.45" y2="885.85" stroke="#333" stroke-width="1.05"/>
<line x1="568.53" x2="568.53" y1="882.45" y2="885.85" stroke="#333" stroke-width="1.05"/>
<line x1="582.02" x2="582.02" y1="882.45" y2="885.85" stroke="#333" stroke-width="1.05"/>
<line x1="595.52" x2="595.52" y1="882.45" y2="885.85" stroke="#333" stroke-width="1.05"/>
<line x1="609.02" x2="609.02" y1="882.45" y2="885.85" stroke="#333" stroke-width="1.05"/>
<line x1="622.51" x2="622.51" y1="882.45" y2="885.85" stroke="#333" stroke-width="1.05"/>
<line x1="636.01" x2="636.01" y1="882.45" y2="885.85" stroke="#333" stroke-width="1.05"/>
<line x1="649.51" x2="649.51" y1="882.45" y2="885.85" stroke="#333" stroke-width="1.05"/>
<line x1="663.00" x2="663.00" y1="882.45" y2="885.85" stroke="#333" stroke-width="1.05"/>
<line x1="676.50" x2="676.50" y1="882.45" y2="885.85" stroke="#333" stroke-width="1.05"/>
<line x1="31.2" x2="34.5" y1="849.50" y2="849.50" stroke="#333" stroke-width="1.05"/>
<text x="27.95" y="853.80" class="s" font-size="10.8" fill="#4d4d4d" text-anchor="end">10</text>
<line x1="31.2" x2="34.5" y1="809.15" y2="809.15" stroke="#333" stroke-width="1.05"/>
<text x="27.95" y="813.45" class="s" font-size="10.8" fill="#4d4d4d" text-anchor="end">20</text>
<line x1="31.2" x2="34.5" y1="768.80" y2="768.80" stroke="#333" stroke-width="1.05"/>
<text x="27.95" y="773.10" class="s" font-size="10.8" fill="#4d4d4d" text-anchor="end">30</text>
<line x1="31.2" x2="34.5" y1="728.45" y2="728.45" stroke="#333" stroke-width="1.05"/>
<text x="27.95" y="732.75" class="s" font-size="10.8" fill="#4d4d4d" text-anchor="end">40</text>
<line x1="31.2" x2="34.5" y1="688.10" y2="688.10" stroke="#333" stroke-width="1.05"/>
<text x="27.95" y="692.40" class="s" font-size="10.8" fill="#4d4d4d" text-anchor="end">50</text>
<text transform="translate(49.40,920.85) rotate(-90)" class="s" font-size="9.45" fill="#4d4d4d" text-anchor="middle">4berlin52-2x2</text>
<text transform="translate(62.90,920.85) rotate(-90)" class="s" font-size="9.45" fill="#4d4d4d" text-anchor="middle">4eil51-2x2</text>
<text transform="translate(76.39,920.85) rotate(-90)" class="s" font-size="9.45" fill="#4d4d4d" text-anchor="middle">4eil76-2x2</text>
<text transform="translate(89.89,920.85) rotate(-90)" class="s" font-size="9.45" fill="#4d4d4d" text-anchor="middle">4pr76-2x2</text>
<text transform="translate(103.39,920.85) rotate(-90)" class="s" font-size="9.45" fill="#4d4d4d" text-anchor="middle">6berlin52-2x3</text>
<text transform="translate(116.88,920.85) rotate(-90)" class="s" font-size="9.45" fill="#4d4d4d" text-anchor="middle">6pr76-2x3</text>
<text transform="translate(130.38,920.85) rotate(-90)" class="s" font-size="9.45" fill="#4d4d4d" text-anchor="middle">6st70-2x3</text>
<text transform="translate(143.88,920.85) rotate(-90)" class="s" font-size="9.45" fill="#4d4d4d" text-anchor="middle">8berlin52-2x4</text>
<text transform="translate(157.37,920.85) rotate(-90)" class="s" font-size="9.45" fill="#4d4d4d" text-anchor="middle">9a280-3x3</text>
<text transform="translate(170.87,920.85) rotate(-90)" class="s" font-size="9.45" fill="#4d4d4d" text-anchor="middle">9eil101-3x3</text>
<text transform="translate(184.37,920.85) rotate(-90)" class="s" font-size="9.45" fill="#4d4d4d" text-anchor="middle">9eil51-3x3</text>
<text transform="translate(197.86,920.85) rotate(-90)" class="s" font-size="9.45" fill="#4d4d4d" text-anchor="middle">9eil76-3x3</text>
<text transform="translate(211.36,920.85) rotate(-90)" class="s" font-size="9.45" fill="#4d4d4d" text-anchor="middle">9gil262-3x3</text>
<text transform="translate(224.86,920.85) rotate(-90)" class="s" font-size="9.45" fill="#4d4d4d" text-anchor="middle">9lin318-3x3</text>
<text transform="translate(238.35,920.85) rotate(-90)" class="s" font-size="9.45" fill="#4d4d4d" text-anchor="middle">9pcb442-3x3</text>
<text transform="translate(251.85,920.85) rotate(-90)" class="s" font-size="9.45" fill="#4d4d4d" text-anchor="middle">9pr439-3x3</text>
<text transform="translate(265.35,920.85) rotate(-90)" class="s" font-size="9.45" fill="#4d4d4d" text-anchor="middle">9pr76-3x3</text>
<text transform="translate(278.85,920.85) rotate(-90)" class="s" font-size="9.45" fill="#4d4d4d" text-anchor="middle">10berlin52-2x5</text>
<text transform="translate(292.34,920.85) rotate(-90)" class="s" font-size="9.45" fill="#4d4d4d" text-anchor="middle">12eil51-3x4</text>
<text transform="translate(305.84,920.85) rotate(-90)" class="s" font-size="9.45" fill="#4d4d4d" text-anchor="middle">12eil76-3x4</text>
<text transform="translate(319.34,920.85) rotate(-90)" class="s" font-size="9.45" fill="#4d4d4d" text-anchor="middle">12pr76-3x4</text>
<text transform="translate(332.83,920.85) rotate(-90)" class="s" font-size="9.45" fill="#4d4d4d" text-anchor="middle">12st70-3x4</text>
<text transform="translate(346.33,920.85) rotate(-90)" class="s" font-size="9.45" fill="#4d4d4d" text-anchor="middle">15pr76-3x5</text>
<text transform="translate(359.83,920.85) rotate(-90)" class="s" font-size="9.45" fill="#4d4d4d" text-anchor="middle">16eil51-4x4</text>
<text transform="translate(373.32,920.85) rotate(-90)" class="s" font-size="9.45" fill="#4d4d4d" text-anchor="middle">16eil76-4x4</text>
<text transform="translate(386.82,920.85) rotate(-90)" class="s" font-size="9.45" fill="#4d4d4d" text-anchor="middle">16lin105-4x4</text>
<text transform="translate(400.32,920.85) rotate(-90)" class="s" font-size="9.45" fill="#4d4d4d" text-anchor="middle">16st70-4x4</text>
<text transform="translate(413.81,920.85) rotate(-90)" class="s" font-size="9.45" fill="#4d4d4d" text-anchor="middle">18pr439-3x6</text>
<text transform="translate(427.31,920.85) rotate(-90)" class="s" font-size="9.45" fill="#4d4d4d" text-anchor="middle">18pr76-3x6</text>
<text transform="translate(440.81,920.85) rotate(-90)" class="s" font-size="9.45" fill="#4d4d4d" text-anchor="middle">20eil51-4x5</text>
<text transform="translate(454.30,920.85) rotate(-90)" class="s" font-size="9.45" fill="#4d4d4d" text-anchor="middle">20eil76-4x5</text>
<text transform="translate(467.80,920.85) rotate(-90)" class="s" font-size="9.45" fill="#4d4d4d" text-anchor="middle">20pr439-4x5</text>
<text transform="translate(481.30,920.85) rotate(-90)" class="s" font-size="9.45" fill="#4d4d4d" text-anchor="middle">20st70-4x5</text>
<text transform="translate(494.80,920.85) rotate(-90)" class="s" font-size="9.45" fill="#4d4d4d" text-anchor="middle">25a280-5x5</text>
<text transform="translate(508.29,920.85) rotate(-90)" class="s" font-size="9.45" fill="#4d4d4d" text-anchor="middle">25eil101-5x5</text>
<text transform="translate(521.79,920.85) rotate(-90)" class="s" font-size="9.45" fill="#4d4d4d" text-anchor="middle">25eil51-5x5</text>
<text transform="translate(535.29,920.85) rotate(-90)" class="s" font-size="9.45" fill="#4d4d4d" text-anchor="middle">25eil76-5x5</text>
<text transform="translate(548.78,920.85) rotate(-90)" class="s" font-size="9.45" fill="#4d4d4d" text-anchor="middle">25gil262-5x5</text>
<text transform="translate(562.28,920.85) rotate(-90)" class="s" font-size="9.45" fill="#4d4d4d" text-anchor="middle">25pcb442-5x5</text>
<text transform="translate(575.78,920.85) rotate(-90)" class="s" font-size="9.45" fill="#4d4d4d" text-anchor="middle">25rat99-5x5</text>
<text transform="translate(589.27,920.85) rotate(-90)" class="s" font-size="9.45" fill="#4d4d4d" text-anchor="middle">28kroA100-4x7</text>
<text transform="translate(602.77,920.85) rotate(-90)" class="s" font-size="9.45" fill="#4d4d4d" text-anchor="middle">30kroB100-5x6</text>
<text transform="translate(616.27,920.85) rotate(-90)" class="s" font-size="9.45" fill="#4d4d4d" text-anchor="middle">35kroB100-5x5</text>
<text transform="translate(629.76,920.85) rotate(-90)" class="s" font-size="9.45" fill="#4d4d4d" text-anchor="middle">36eil101-6x6</text>
<text transform="translate(643.26,920.85) rotate(-90)" class="s" font-size="9.45" fill="#4d4d4d" text-anchor="middle">36pcb442-6x6</text>
<text transform="translate(656.76,920.85) rotate(-90)" class="s" font-size="9.45" fill="#4d4d4d" text-anchor="middle">42a280-6x7</text>
<text transform="translate(670.25,920.85) rotate(-90)" class="s" font-size="9.45" fill="#4d4d4d" text-anchor="middle">42rat99-6x7</text>
<text transform="translate(683.75,920.85) rotate(-90)" class="s" font-size="9.45" fill="#4d4d4d" text-anchor="middle">49lin318-7x7</text>
<text x="359.08" y="965.4" class="s" font-size="13.45" fill="#000" text-anchor="middle">Instances</text>
<text transform="translate(9.9,779.77) rotate(-90)" class="s" font-size="13.4" fill="#000" text-anchor="middle">Number of clusters</text>
<rect x="34.3" y="676.5" width="120.8" height="47.5" fill="#fff" stroke="#000" stroke-width="1.1"/>
<circle cx="49.30" cy="692.10" r="4.42" fill="#F8766D"/>
<polygon points="49.30,702.65 54.89,712.33 43.71,712.33" fill="#00BFC4"/>
<text x="58.099999999999994" y="696.6" class="s" font-size="11.95" font-style="italic" fill="#000">N-MFEA &gt;&gt; NEA</text>
<text x="58.099999999999994" y="713.0" class="s" font-size="11.95" font-style="italic" fill="#000">N-MFEA &lt;&lt; NEA</text>
<text x="342.9" y="999.3" class="r" font-size="17.5" letter-spacing="0.85" fill="#111" stroke="#111" stroke-width="0.2" text-anchor="middle">(c) Type 6</text>
</svg>
</body></html>
